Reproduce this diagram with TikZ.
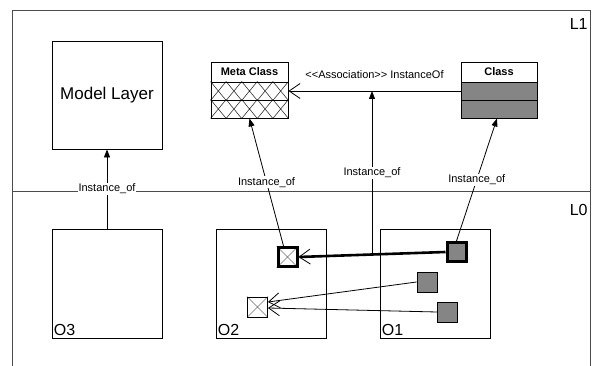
\documentclass[tikz,border=0pt]{standalone}
\usepackage{fontspec}
\setmainfont{Liberation Sans}
\usetikzlibrary{arrows.meta,calc,backgrounds}
\newcommand\myfs[1]{\fontsize{#1}{#1}\selectfont}
\newcommand\xhatch[3]{%
  \begin{scope}[on background layer]
  \foreach \k in {1,...,#2} {
    \pgfmathsetmacro\fa{(\k-1)/#2}
    \pgfmathsetmacro\fb{\k/#2}
    \draw[#3, line width=0.6pt]
      ($(#1.north west)!\fa!(#1.north east)$) -- ($(#1.south west)!\fb!(#1.south east)$)
      ($(#1.north west)!\fb!(#1.north east)$) -- ($(#1.south west)!\fa!(#1.south east)$);
  }
  \end{scope}}
\begin{document}
\begin{tikzpicture}[x=1pt,y=-1pt,line width=0.8pt,
  frame/.style={draw=black!70, line width=0.9pt, inner sep=0pt},
  bigbox/.style={draw, line width=0.9pt, inner sep=0pt, minimum width=110pt, minimum height=109pt},
  comp/.style={draw, line width=0.9pt, inner sep=0pt, minimum width=77pt, minimum height=18pt},
  head/.style={comp, minimum height=20pt, font=\bfseries\myfs{11}},
  gcomp/.style={comp, fill=black!48},
  sq/.style={draw, line width=0.9pt, inner sep=0pt, minimum size=20pt},
  thk/.style={line width=3pt, minimum size=19pt},
  gsq/.style={sq, fill=black!48},
  lbl/.style={font=\myfs{11}, fill=white, inner sep=1pt},
  corner/.style={font=\myfs{16}, inner sep=0pt},
  inst/.style={-{Triangle[length=8pt,width=6pt]}, line width=0.8pt},
  assoc/.style={-{Straight Barb[length=11pt,width=15pt,line width=0.8pt]}}
]
\useasboundingbox (0,0) rectangle (592,366);

% layers
\node[frame, anchor=north west, minimum width=578pt, minimum height=181pt] (L1) at (12,10) {};
\draw[frame] (L1.south west) -- ++(0,176);
\draw[frame] (L1.south east) -- ++(0,176);
\node[corner, anchor=east] (l1t) at (588,24) {L1};
\node[corner, anchor=east] (l0t) at (588,210) {L0};

% model layer
\node[bigbox, minimum height=108pt, font=\myfs{17}] (ml) at (107,95) {Model Layer};

% meta class
\node[head] (mh) at (249.5,72) {Meta Class};
\node[comp] (m1) at (249.5,91) {};
\node[comp] (m2) at (249.5,109) {};
\xhatch{m1}{5}{black!80}
\xhatch{m2}{5}{black!80}

% class
\node[head, minimum width=76pt] (ch) at (499,72) {Class};
\node[gcomp, minimum width=76pt] (c1) at (499,91) {};
\node[gcomp, minimum width=76pt] (c2) at (499,109) {};

% object boxes
\node[bigbox] (o3) at (107,283.5) {};
\node[bigbox] (o2) at (271,283.5) {};
\node[bigbox] (o1) at (435,283.5) {};
\node[corner, anchor=south west, inner sep=2pt] at (o3.south west) {O3};
\node[corner, anchor=south west, inner sep=2pt] at (o2.south west) {O2};
\node[corner, anchor=south west, inner sep=2pt] at (o1.south west) {O1};

% small squares
\node[sq, thk] (s2a) at (287.5,257) {};
\node[sq] (s2b) at (257.5,307) {};
\xhatch{s2a}{1}{black!55}
\xhatch{s2b}{1}{black!55}
\node[gsq, thk] (s1a) at (456.5,252) {};
\node[gsq] (s1b) at (427,282) {};
\node[gsq] (s1c) at (447.5,312) {};

% connectors
\draw[assoc] (c1.west) -- (m1.east)
  node[midway, yshift=16pt, font=\myfs{11}] {<\kern0pt<Association>\kern0pt> InstanceOf};
\draw[assoc, line width=2.6pt] (s1a.west) -- (s2a.east);
\coordinate (j) at ($(s1a.west)!0.5!(s2a.east)$);
\draw[assoc] (s1b.west) -- ([yshift=5pt]s2b.east);
\draw[assoc] (s1c.west) -- ([yshift=-1pt]s2b.east);

\draw[inst] (j) -- (j |- c1.west) node[midway, lbl] {Instance\_of};
\draw[inst] (o3.north) -- (ml.south) node[midway, lbl] {Instance\_of};
\draw[inst] ([xshift=-4pt]s2a.north) -- (m2.south) node[midway, lbl] {Instance\_of};
\draw[inst] (s1a.north) -- ([xshift=-2pt]c2.south) node[midway, lbl] {Instance\_of};
\end{tikzpicture}
\end{document}
